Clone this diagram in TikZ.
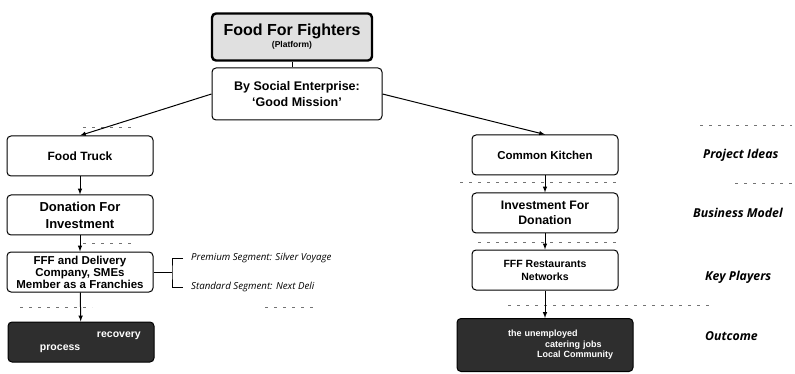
\documentclass[tikz,border=0pt]{standalone}
\usepackage{fontspec}
\setmainfont{Liberation Sans}
\newfontfamily\rowfont{Open Sans}

\begin{document}
\begin{tikzpicture}[x = 1pt, y = -1pt]
\tikzstyle{BoxStyle} = [shape = rectangle, rounded corners = 4pt, draw, line width = 1pt, fill = white, minimum width = 146pt, minimum height = 40pt, inner sep = 1pt, align = center, font = \bfseries\fontsize{12}{15}\selectfont]
\tikzstyle{TitleStyle} = [BoxStyle, line width = 2.4pt, fill = black!12, minimum width = 160pt, minimum height = 47pt]
\tikzstyle{DarkStyle} = [BoxStyle, fill = black!82, text = white, align = left, font = \bfseries\fontsize{10.5}{13}\selectfont]
\tikzstyle{RowStyle} = [anchor = west, inner sep = 0pt, font = \rowfont\bfseries\itshape\fontsize{12.3}{14}\selectfont]
\tikzstyle{SegStyle} = [anchor = west, inner sep = 0pt, inner xsep = 8pt, font = \rowfont\itshape\fontsize{9.7}{11}\selectfont]
\tikzstyle{SepStyle} = [draw = black!55, line width = 0.7pt, dash pattern = on 3pt off 6pt]
\tikzstyle{EdgeStyle} = [draw, line width = 1pt, -latex]
\useasboundingbox (0,0) rectangle (795,374);
% platform and mission
\node[TitleStyle] (v0) at (292,37) {{\fontsize{16}{18}\selectfont Food For Fighters}\\[-3pt]{\fontsize{8.5}{9}\selectfont (Platform)}};
\node[BoxStyle, minimum width = 170pt, minimum height = 52pt, font = \bfseries\fontsize{12.5}{16}\selectfont] (v1) at (297,94) {By Social Enterprise:\\`Good Mission'};
% left branch
\node[BoxStyle] (v2) at (80,156) {Food Truck};
\node[BoxStyle, font = \bfseries\fontsize{13}{17}\selectfont] (v3) at (80,215) {Donation For\\Investment};
\node[BoxStyle, font = \bfseries\fontsize{11.5}{12}\selectfont] (v4) at (80,272) {FFF and Delivery\\Company, SMEs\\Member as a Franchies};
\node[DarkStyle, text width = 130pt] (v5) at (81,342) {\hspace*{81pt}recovery\\\hspace*{24pt}process};
% right branch
\node[BoxStyle, font = \bfseries\fontsize{11.5}{14}\selectfont] (v6) at (545,155) {Common Kitchen};
\node[BoxStyle, font = \bfseries\fontsize{12.3}{15}\selectfont] (v7) at (545,213) {Investment For\\Donation};
\node[BoxStyle, font = \bfseries\fontsize{10.5}{13}\selectfont] (v8) at (545,270) {FFF Restaurants\\Networks};
\node[DarkStyle, minimum width = 176pt, minimum height = 53pt, text width = 150pt, font = \bfseries\fontsize{9}{10.5}\selectfont] (v9) at (545,345) {\hspace*{38pt}the unemployed\\\hspace*{75pt}catering jobs\\\hspace*{67pt}Local Community};
% segments
\coordinate (b0) at (172,272);
\node[SegStyle] (s0) at (183,258) {Premium Segment: Silver Voyage};
\node[SegStyle] (s1) at (183,287) {Standard Segment: Next Deli};
% row names
\node[RowStyle] (r0) at (703,155) {Project Ideas};
\node[RowStyle] (r1) at (693,213) {Business Model};
\node[RowStyle] (r2) at (705,277) {Key Players};
\node[RowStyle] (r3) at (705,336) {Outcome};
% separators
\draw[SepStyle] (83,127) -- (135,127);
\draw[SepStyle] (700,125) -- (792,125);
\draw[SepStyle] (460,182) -- (616,182);
\draw[SepStyle] (735,183) -- (792,183);
\draw[SepStyle] (83,243) -- (135,243);
\draw[SepStyle] (478,242) -- (621,242);
\draw[SepStyle] (20,307) -- (92,307);
\draw[SepStyle] (265,307) -- (315,307);
\draw[SepStyle] (508,305) -- (712,305);
% connectors
\draw[line width = 1pt] (v0.south) -- (v0.south |- v1.north);
\draw[EdgeStyle] (v1.west) -- (v2.north);
\draw[EdgeStyle] (v1.east) -- (v6.north);
\draw[EdgeStyle] (v2) -- (v3);
\draw[EdgeStyle] (v3) -- (v4);
\draw[EdgeStyle] (v4) -- (v5);
\draw[EdgeStyle] (v6) -- (v7);
\draw[EdgeStyle] (v7) -- (v8);
\draw[EdgeStyle] (v8) -- (v9);
\draw[line width = 0.8pt] (v4.east) -- (b0);
\draw[line width = 0.8pt] (s0.west) -| (b0) |- (s1.west);
\end{tikzpicture}
\end{document}
